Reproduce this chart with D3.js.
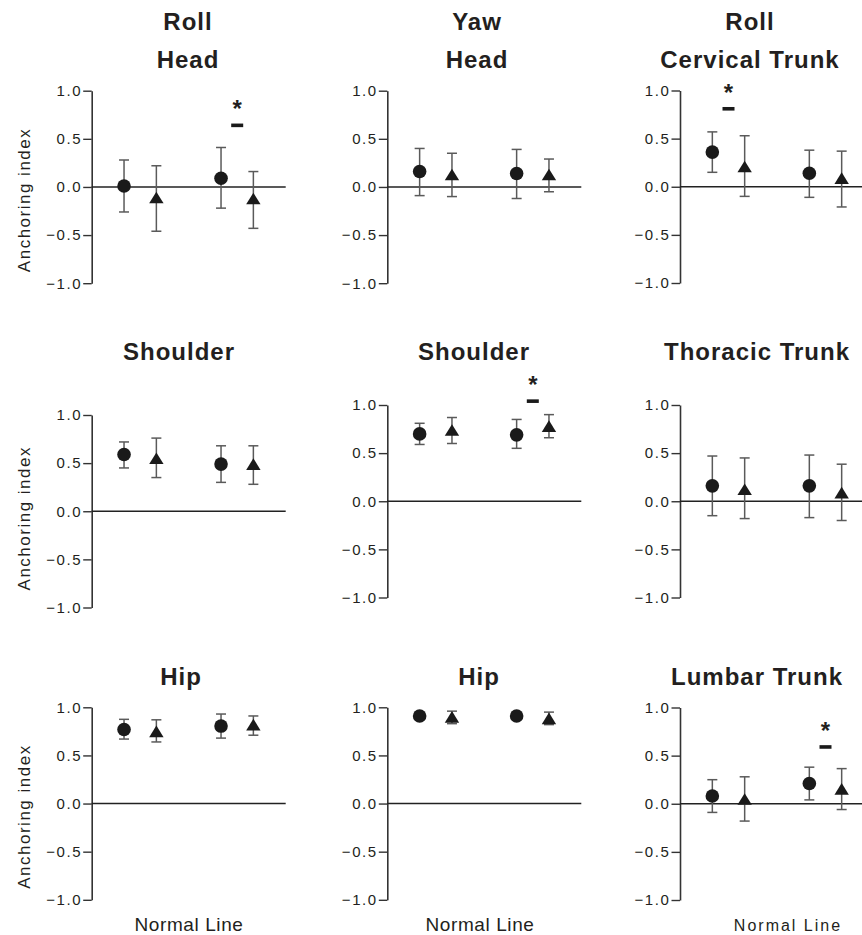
<!DOCTYPE html>
<html>
<head>
<meta charset="utf-8">
<script src="https://cdn.jsdelivr.net/npm/d3@7"></script>
<style>
  body { margin: 0; background: #fff; }
  svg { display: block; font-family: "Liberation Sans", Arial, Helvetica, sans-serif; }
</style>
</head>
<body>
<svg id="chart" width="862" height="935"></svg>
<script>
// Panel titles (row by row)
const panelTitles = [
  ["Roll", "Head"], ["Yaw", "Head"], ["Roll", "Cervical Trunk"],
  ["Shoulder"], ["Shoulder"], ["Thoracic Trunk"],
  ["Hip"], ["Hip"], ["Lumbar Trunk"]
];
const markerShapes = ["circle", "triangle", "circle", "triangle"];
const xSlots = [1, 2, 4, 5];
const yTicks = [-1, -0.5, 0, 0.5, 1];
const yLabel = "Anchoring index";
const xLabel = "Normal Line";

// means, one row of 4 per panel
const meanValues = [
  [0.01, -0.11, 0.09, -0.12],
  [0.16, 0.13, 0.14, 0.13],
  [0.36, 0.21, 0.14, 0.09],
  [0.59, 0.55, 0.49, 0.49],
  [0.70, 0.74, 0.69, 0.78],
  [0.16, 0.125, 0.16, 0.09],
  [0.77, 0.75, 0.805, 0.82],
  [0.91, 0.90, 0.91, 0.885],
  [0.08, 0.05, 0.21, 0.155]
];
const upperValues = [
  [0.28, 0.22, 0.41, 0.16],
  [0.40, 0.35, 0.39, 0.29],
  [0.57, 0.53, 0.38, 0.37],
  [0.72, 0.76, 0.68, 0.68],
  [0.81, 0.87, 0.85, 0.90],
  [0.47, 0.45, 0.48, 0.385],
  [0.875, 0.87, 0.93, 0.91],
  [0.94, 0.96, 0.94, 0.95],
  [0.25, 0.28, 0.38, 0.365]
];
const lowerValues = [
  [-0.26, -0.46, -0.22, -0.43],
  [-0.09, -0.10, -0.12, -0.05],
  [0.15, -0.10, -0.11, -0.21],
  [0.45, 0.35, 0.30, 0.28],
  [0.59, 0.60, 0.55, 0.66],
  [-0.15, -0.18, -0.17, -0.20],
  [0.67, 0.64, 0.68, 0.71],
  [0.88, 0.83, 0.88, 0.82],
  [-0.09, -0.18, 0.04, -0.06]
];
// significance marks (dash + asterisk): level and slot position
const sigLevels = [0.64, null, 0.81, null, 1.04, null, null, null, 0.59];
const sigSlots = [4.5, null, 1.5, null, 4.5, null, null, null, 4.5];

// layout
const colAxisX = [91.7, 387.3, 680];
const panelTops = [90.7, 90.7, 90.5, 415, 405, 405, 707.3, 707.3, 707.5];
const plotH = 192.5, plotW = 194;
const titleX = [188, 477, 750, 179, 474, 757, 181, 479, 757];
const titleBase = [[30, 68], [30, 68], [30, 68], [360], [360], [360], [685], [685], [685]];
const xLabelX = [189, 480, 788];

const svg = d3.select("#chart");
const ink = "#231f20";

const x = d3.scaleLinear().domain([0, 6]).range([0, plotW]);
const triPath = "M0,-5.8L7.2,5.8L-7.2,5.8Z";

panelTitles.forEach((titles, p) => {
  const col = p % 3, row = Math.floor(p / 3);
  const ox = colAxisX[col], oy = panelTops[p];
  const y = d3.scaleLinear().domain([-1, 1]).range([plotH, 0]);
  const g = svg.append("g").attr("transform", `translate(${ox},${oy})`);

  // titles
  titles.forEach((t, i) => {
    svg.append("text")
      .attr("x", titleX[p]).attr("y", titleBase[p][i])
      .attr("text-anchor", "middle")
      .attr("font-size", 24).attr("font-weight", "bold")
      .attr("letter-spacing", 1)
      .attr("fill", ink)
      .text(t);
  });

  // y axis
  const ax = g.append("g")
    .call(d3.axisLeft(y).tickValues(yTicks).tickFormat(d3.format(".1f"))
      .tickSizeInner(8.5).tickSizeOuter(0).tickPadding(1));
  ax.select(".domain").attr("stroke", "#333").attr("stroke-width", 1.6);
  ax.selectAll(".tick line").attr("stroke", "#333").attr("stroke-width", 1.4);
  ax.selectAll(".tick text")
    .attr("font-size", 15).attr("letter-spacing", 1.6).attr("fill", ink)
    .attr("font-family", "Liberation Sans, Arial, sans-serif");

  // zero line
  g.append("line")
    .attr("x1", x(0)).attr("x2", x(6))
    .attr("y1", y(0)).attr("y2", y(0))
    .attr("stroke", "#222").attr("stroke-width", 1.6);

  const pts = xSlots.map((s, i) => ({
    slot: s, shape: markerShapes[i],
    m: meanValues[p][i], hi: upperValues[p][i], lo: lowerValues[p][i]
  }));

  // error bars
  const eb = g.selectAll(".err").data(pts).enter().append("g").attr("class", "err")
    .attr("stroke", "#5a5a5a").attr("stroke-width", 1.5);
  eb.append("line")
    .attr("x1", d => x(d.slot)).attr("x2", d => x(d.slot))
    .attr("y1", d => y(d.hi)).attr("y2", d => y(d.lo));
  eb.append("line")
    .attr("x1", d => x(d.slot) - 5).attr("x2", d => x(d.slot) + 5)
    .attr("y1", d => y(d.hi)).attr("y2", d => y(d.hi));
  eb.append("line")
    .attr("x1", d => x(d.slot) - 5).attr("x2", d => x(d.slot) + 5)
    .attr("y1", d => y(d.lo)).attr("y2", d => y(d.lo));

  // markers
  g.selectAll(".dot").data(pts.filter(d => d.shape === "circle")).enter()
    .append("circle")
    .attr("cx", d => x(d.slot)).attr("cy", d => y(d.m))
    .attr("r", 6.8).attr("fill", "#1a1a1a");
  g.selectAll(".tri").data(pts.filter(d => d.shape === "triangle")).enter()
    .append("path")
    .attr("d", triPath)
    .attr("transform", d => `translate(${x(d.slot)},${y(d.m)})`)
    .attr("fill", "#1a1a1a");

  // significance
  if (sigLevels[p] !== null) {
    const sx = x(sigSlots[p]), sy = y(sigLevels[p]);
    g.append("rect")
      .attr("x", sx - 6).attr("y", sy - 1.8)
      .attr("width", 12).attr("height", 3.6)
      .attr("fill", "#1a1a1a");
    g.append("text")
      .attr("x", sx).attr("y", sy - 8)
      .attr("text-anchor", "middle")
      .attr("font-size", 24).attr("font-weight", "bold")
      .attr("fill", ink)
      .text("*");
  }

  // y label on first column
  if (col === 0) {
    const cy = oy + plotH / 2 + (row === 1 ? 7 : 13);
    svg.append("text")
      .attr("transform", `translate(30,${cy}) rotate(-90)`)
      .attr("text-anchor", "middle")
      .attr("font-size", 17).attr("letter-spacing", 1.5)
      .attr("fill", ink)
      .text(yLabel);
  }

  // x label on bottom row
  if (row === 2) {
    svg.append("text")
      .attr("x", xLabelX[col]).attr("y", 931)
      .attr("text-anchor", "middle")
      .attr("font-size", col === 2 ? 16 : 19)
      .attr("letter-spacing", col === 2 ? 2 : 0.6)
      .attr("fill", ink)
      .text(xLabel);
  }
});
</script>
</body>
</html>
